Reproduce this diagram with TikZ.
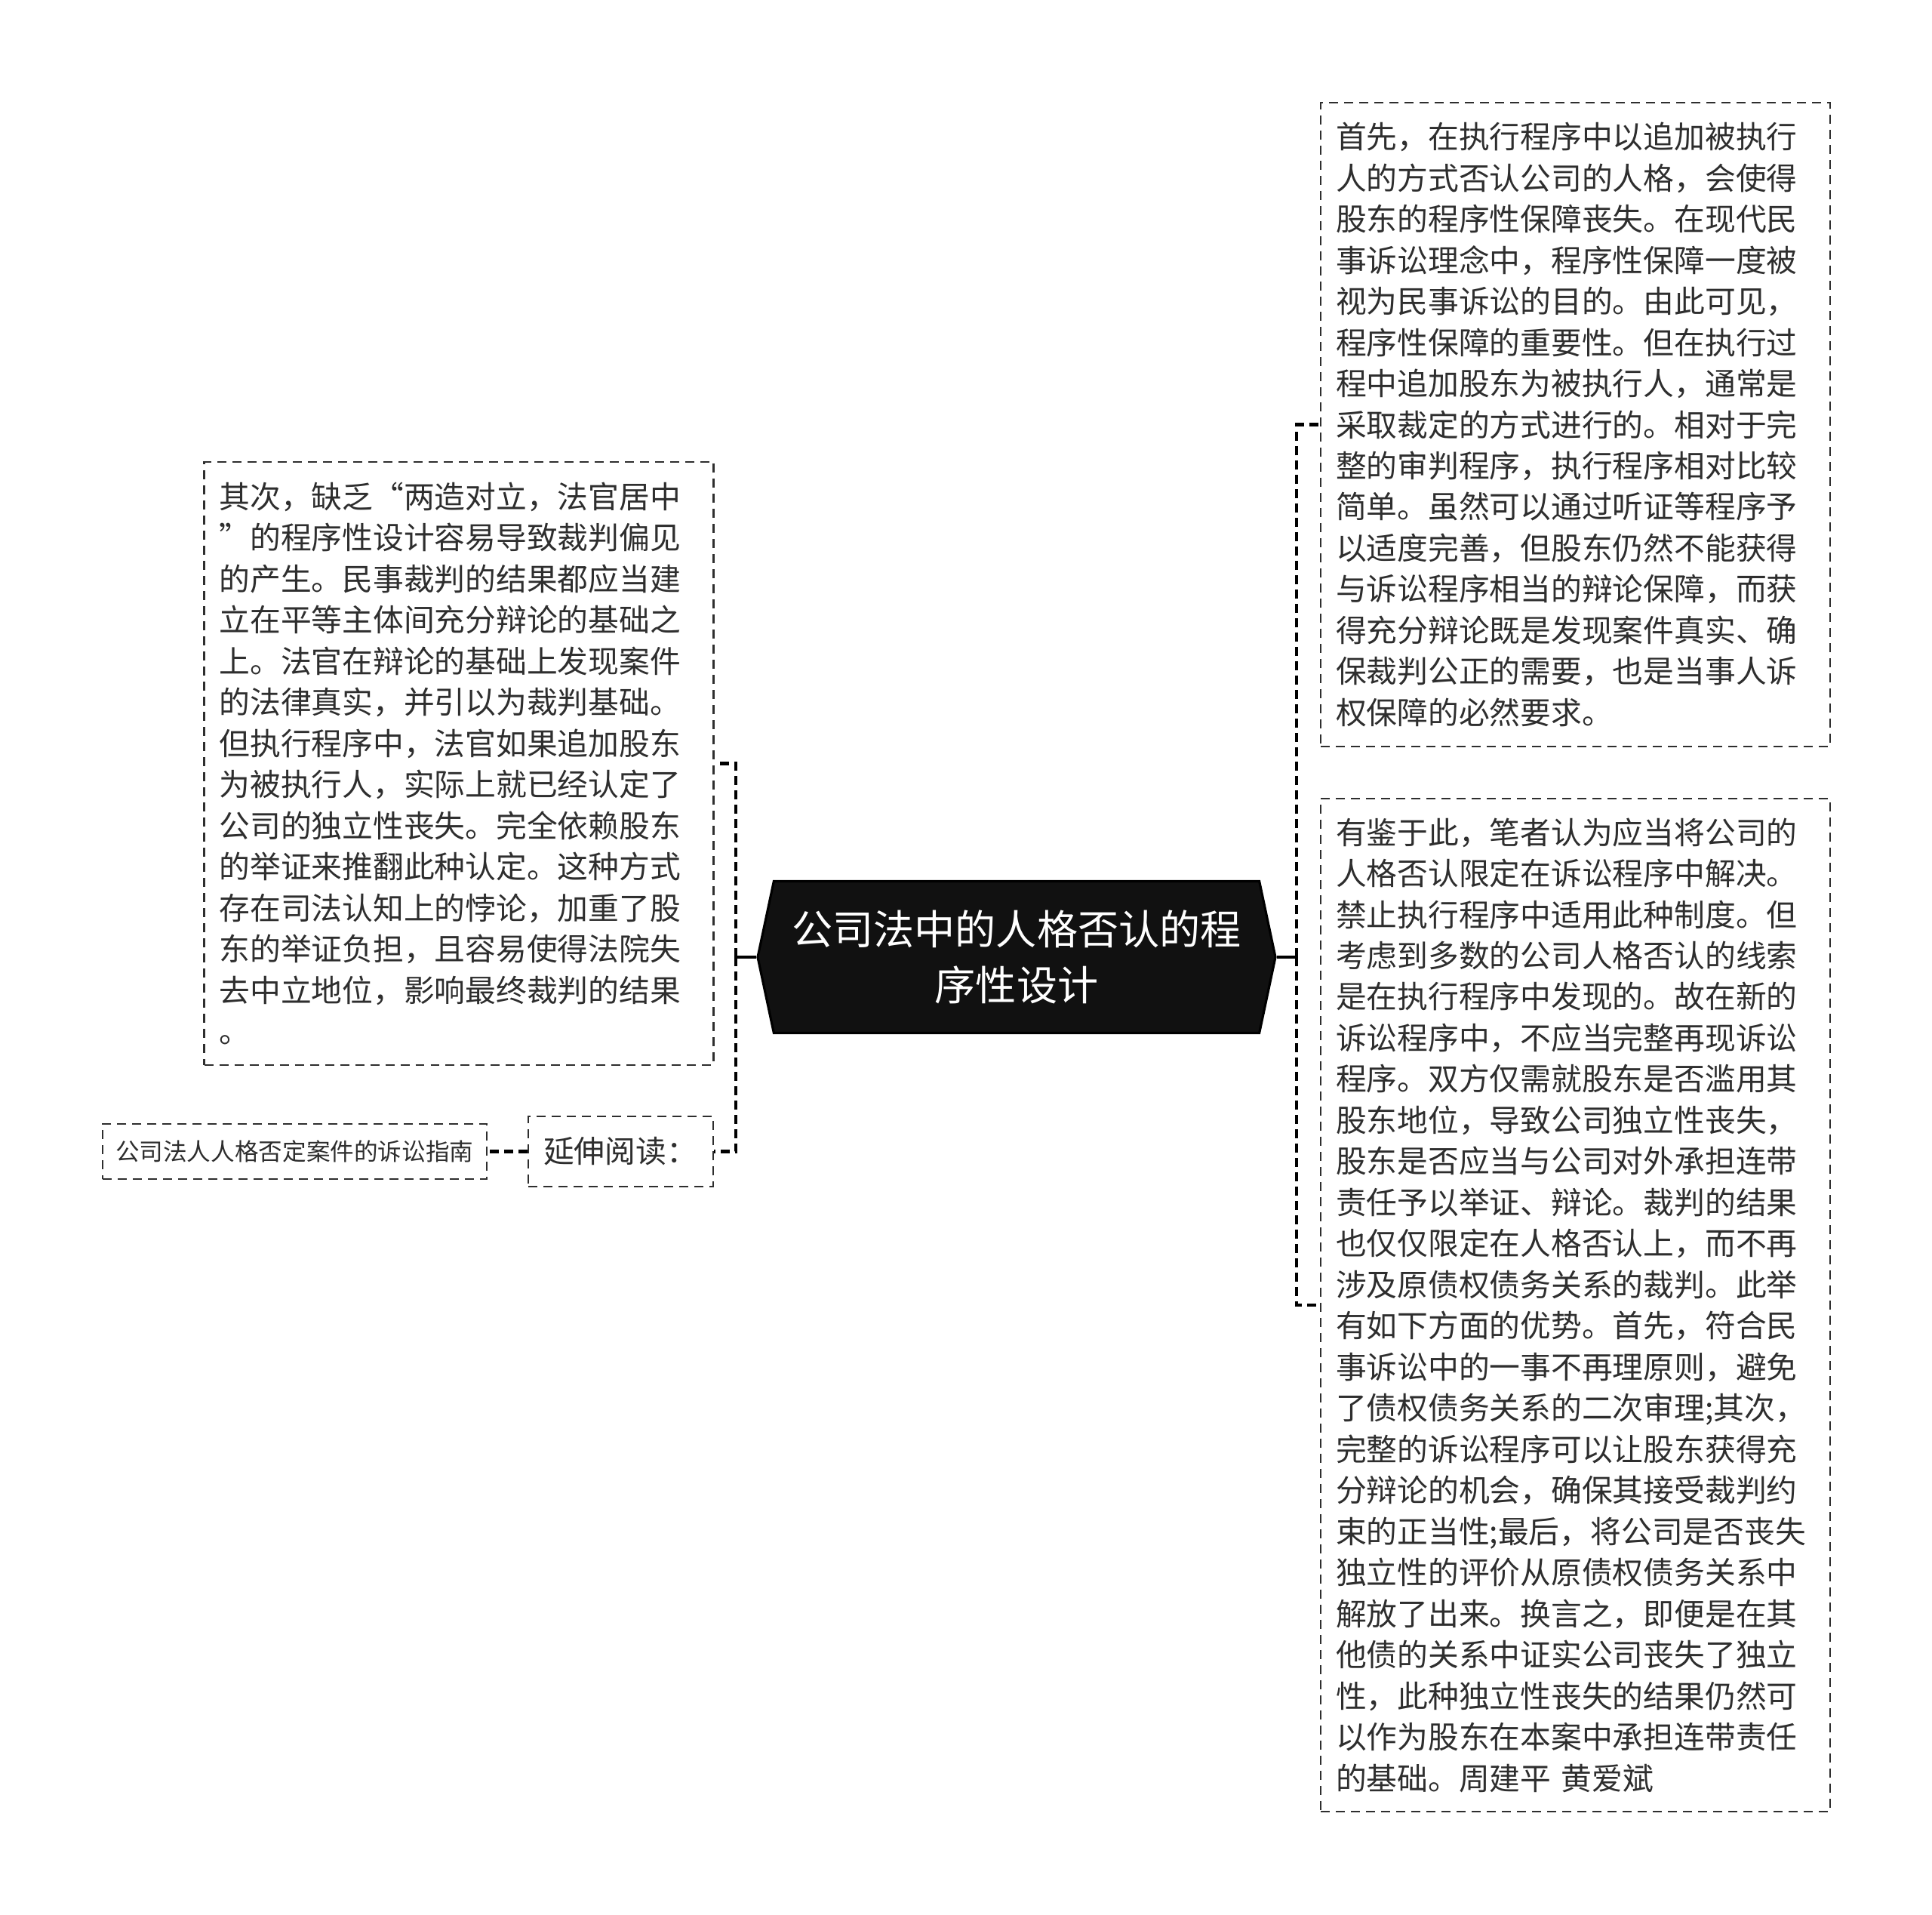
\documentclass[tikz,border=0pt]{standalone}
\usepackage{fontspec}
\newfontfamily\zhfont{Noto Sans CJK SC}
\usepackage{tikz}
\usetikzlibrary{shapes.symbols,calc}
\definecolor{inkgray}{HTML}{2E2E2E}
\definecolor{rootfill}{HTML}{111111}
\tikzset{
  txtbox/.style={draw=inkgray, line width=0.7pt, dash pattern=on 0.12cm off 0.08cm,
    text=inkgray, align=left, inner xsep=0.2cm, inner ysep=0.22cm,
    font=\zhfont\fontsize{11.6pt}{15.5pt}\selectfont},
  rootbox/.style={signal, signal to=east and west, signal pointer angle=156,
    fill=rootfill, draw=black, line width=0.9pt, text=white, align=center,
    minimum width=6.86cm, minimum height=2.01cm,
    font=\zhfont\fontsize{15.4pt}{20.9pt}\selectfont},
  link/.style={draw=black, line width=1.1pt},
  dlink/.style={link, line width=1.4pt, dash pattern=on 0.12cm off 0.07cm}
}
\begin{document}
\begin{tikzpicture}
\useasboundingbox (0,0) rectangle (25.60,-25.37);
\node[rootbox] (root) at (13.47,-12.68) {公司法中的人格否认的程\\序性设计};
\node[txtbox, text width=6.35cm, minimum height=7.99cm] (lbox) at (6.08,-10.115) {其次，缺乏“两造对立，法官居中\\”的程序性设计容易导致裁判偏见\\的产生。民事裁判的结果都应当建\\立在平等主体间充分辩论的基础之\\上。法官在辩论的基础上发现案件\\的法律真实，并引以为裁判基础。\\但执行程序中，法官如果追加股东\\为被执行人，实际上就已经认定了\\公司的独立性丧失。完全依赖股东\\的举证来推翻此种认定。这种方式\\存在司法认知上的悖论，加重了股\\东的举证负担，且容易使得法院失\\去中立地位，影响最终裁判的结果\\。};
\node[txtbox, text width=2.05cm, minimum height=0.93cm] (readmore) at (8.225,-15.255) {延伸阅读：};
\node[txtbox, text width=4.75cm, minimum height=0.73cm, inner xsep=0.17cm,
  font=\zhfont\fontsize{9pt}{11pt}\selectfont] (guide) at (3.905,-15.255) {公司法人人格否定案件的诉讼指南};
\node[txtbox, text width=6.35cm, minimum height=8.53cm] (rtop) at (20.875,-5.625) {首先，在执行程序中以追加被执行\\人的方式否认公司的人格，会使得\\股东的程序性保障丧失。在现代民\\事诉讼理念中，程序性保障一度被\\视为民事诉讼的目的。由此可见，\\程序性保障的重要性。但在执行过\\程中追加股东为被执行人，通常是\\采取裁定的方式进行的。相对于完\\整的审判程序，执行程序相对比较\\简单。虽然可以通过听证等程序予\\以适度完善，但股东仍然不能获得\\与诉讼程序相当的辩论保障，而获\\得充分辩论既是发现案件真实、确\\保裁判公正的需要，也是当事人诉\\权保障的必然要求。};
\node[txtbox, text width=6.35cm, minimum height=13.42cm] (rbottom) at (20.875,-17.29) {有鉴于此，笔者认为应当将公司的\\人格否认限定在诉讼程序中解决。\\禁止执行程序中适用此种制度。但\\考虑到多数的公司人格否认的线索\\是在执行程序中发现的。故在新的\\诉讼程序中，不应当完整再现诉讼\\程序。双方仅需就股东是否滥用其\\股东地位，导致公司独立性丧失，\\股东是否应当与公司对外承担连带\\责任予以举证、辩论。裁判的结果\\也仅仅限定在人格否认上，而不再\\涉及原债权债务关系的裁判。此举\\有如下方面的优势。首先，符合民\\事诉讼中的一事不再理原则，避免\\了债权债务关系的二次审理;其次，\\完整的诉讼程序可以让股东获得充\\分辩论的机会，确保其接受裁判约\\束的正当性;最后，将公司是否丧失\\独立性的评价从原债权债务关系中\\解放了出来。换言之，即便是在其\\他债的关系中证实公司丧失了独立\\性，此种独立性丧失的结果仍然可\\以作为股东在本案中承担连带责任\\的基础。周建平 黄爱斌};
\coordinate (lj) at (9.75,-12.68);
\coordinate (rj) at (17.18,-12.68);
\draw[link] (root.west) -- (lj);
\draw[dlink] (lj) |- (lbox.east);
\draw[dlink] (lj) |- (readmore.east);
\draw[dlink] (readmore.west) -- (guide.east);
\draw[link] (root.east) -- (rj);
\draw[dlink] (rj) |- (rtop.west);
\draw[dlink] (rj) |- (rbottom.west);
\end{tikzpicture}
\end{document}
